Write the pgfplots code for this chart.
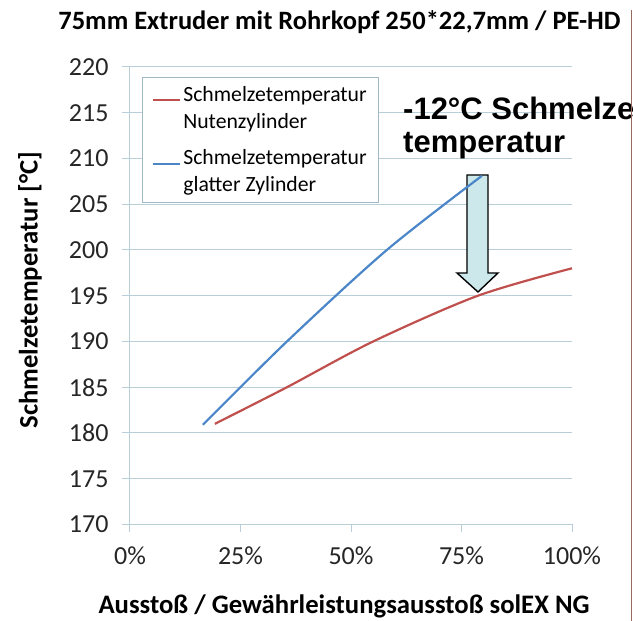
\documentclass[border=0pt]{standalone}
\usepackage{pgfplots}
\pgfplotsset{compat=1.18}
\usepackage{fontspec}
\setmainfont{Carlito}
\newfontfamily\arialfont{Liberation Sans}

\definecolor{nutred}{RGB}{192,80,77}
\definecolor{glattblue}{RGB}{74,134,200}
\definecolor{gridcol}{RGB}{184,206,216}
\definecolor{legcol}{RGB}{160,184,198}
\definecolor{arrowfill}{RGB}{204,232,235}
\definecolor{framecol}{RGB}{150,105,95}

\begin{document}
\begin{tikzpicture}[x=1pt,y=1pt]
\begin{axis}[
  at={(130pt,96.5pt)}, anchor=south west,
  scale only axis, width=442pt, height=457.5pt,
  xmin=0, xmax=100, ymin=170, ymax=220,
  xtick={0,25,50,75,100}, ytick={170,175,...,220},
  xticklabel={\pgfmathprintnumber{\tick}\%},
  /pgf/number format/assume math mode=true,
  ticklabel style={font=\fontsize{26}{28}\selectfont, text=black!85},
  xticklabel style={yshift=-11pt},
  yticklabel style={xshift=-10pt},
  axis x line*=bottom, axis y line*=left,
  axis line style={draw=gridcol, line width=1pt},
  tick align=outside, major tick length=8pt,
  tick style={draw=gridcol, line width=1pt},
  ymajorgrids, grid style={draw=gridcol, line width=1pt},
  legend style={at={(0.027,0.978)}, anchor=north west, draw=legcol, fill=white,
    font=\fontsize{21.7}{27}\selectfont, cells={anchor=west, align=left},
    inner xsep=10pt, inner ysep=7pt, row sep=16pt},
  legend image code/.code={\draw[#1] (0pt,8pt) -- (27pt,8pt);},
  clip=false,
]
% block arrow (under the curves)
\draw[black, line width=1.4pt, fill=arrowfill, line join=miter]
  (76.24,208.2) -- (81.0,208.2) -- (81.0,197.49) -- (83.26,197.49)
  -- (78.73,195.41) -- (73.98,197.49) -- (76.24,197.49) -- cycle;
\addplot[nutred, line width=2.2pt, smooth] coordinates
  {(19.2,181) (35.5,185) (55,190) (78.7,195) (100,198)};
\addlegendentry{Schmelzetemperatur\\Nutenzylinder}
\addplot[glattblue, line width=2.2pt, smooth] coordinates
  {(16.5,180.9) (35.5,190) (58.1,200) (79.6,208.1)};
\addlegendentry{Schmelzetemperatur\\glatter Zylinder}
\end{axis}
% annotation
\node[anchor=base west, inner sep=0pt, font=\arialfont\bfseries\fontsize{31}{33}\selectfont] at (403,501) {-12°C Schmelze};
\node[anchor=base west, inner sep=0pt, font=\arialfont\bfseries\fontsize{31}{33}\selectfont] at (403,468) {temperatur};
% title and axis labels
\node[anchor=base, inner sep=0pt, font=\bfseries\fontsize{26.5}{28}\selectfont] at (339.5,591) {75mm Extruder mit Rohrkopf 250*22,7mm / PE-HD};
\node[anchor=base, inner sep=0pt, font=\bfseries\fontsize{26.7}{28}\selectfont] at (344,7) {Ausstoß / Gewährleistungsausstoß solEX NG};
\node[rotate=90, inner sep=0pt, font=\bfseries\fontsize{26.7}{28}\selectfont] at (30,331) {Schmelzetemperatur [°C]};
\draw[framecol, line width=1pt] (631,0) -- (631,611);
\pgfresetboundingbox
\path[use as bounding box] (0,0) rectangle (633,621);
\end{tikzpicture}
\end{document}
